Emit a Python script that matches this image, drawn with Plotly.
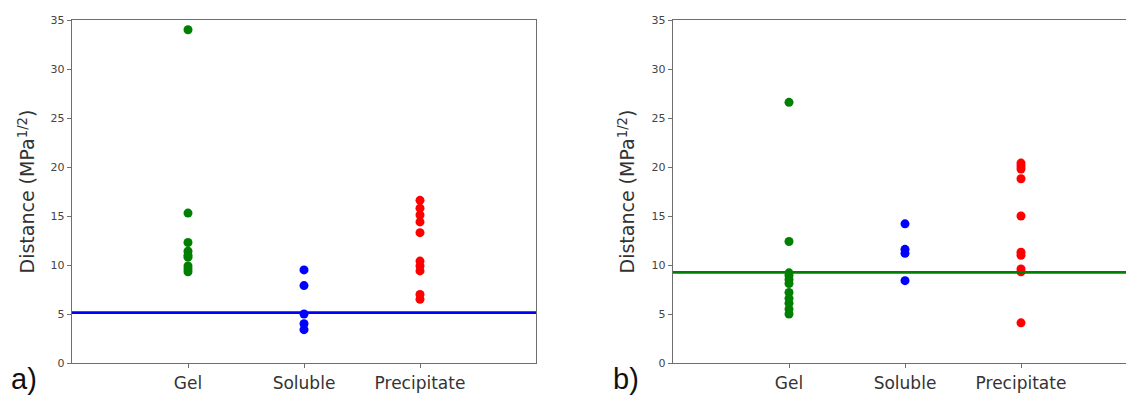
import plotly.graph_objects as go

categories = ["Gel", "Soluble", "Precipitate"]
colors = ["#008000", "#0000ff", "#ff0000"]

# Panel a)
a_gel = [34.0, 15.3, 12.3, 11.4, 11.0, 10.8, 9.9, 9.6, 9.3]
a_soluble = [9.5, 7.9, 5.0, 4.0, 3.4]
a_precipitate = [16.6, 15.8, 15.1, 14.4, 13.3, 10.4, 9.9, 9.4, 7.0, 6.5]
a_threshold = 5.15

# Panel b)
b_gel = [26.6, 12.4, 9.2, 8.9, 8.5, 8.1, 7.2, 6.6, 6.1, 5.5, 5.0]
b_soluble = [14.2, 11.6, 11.2, 8.4]
b_precipitate = [20.4, 20.1, 19.8, 18.8, 15.0, 11.3, 11.0, 9.6, 9.3, 4.1]
b_threshold = 9.25

y_ticks = [0, 5, 10, 15, 20, 25, 30, 35]
y_title = "Distance (MPa<sup>1/2</sup>)"
panel_labels = ["a)", "b)"]

W, H = 1126, 396
fig = go.Figure()

panels = [
    ([a_gel, a_soluble, a_precipitate], a_threshold, "#0000ff", "x", "y"),
    ([b_gel, b_soluble, b_precipitate], b_threshold, "#008000", "x2", "y2"),
]

for series, thr, lcol, xa, ya in panels:
    for i, vals in enumerate(series):
        fig.add_trace(go.Scatter(
            x=[i + 1] * len(vals), y=vals, mode="markers",
            marker=dict(color=colors[i], size=9, line=dict(width=0)),
            xaxis=xa, yaxis=ya, showlegend=False, hoverinfo="y"))
    fig.add_shape(type="line", xref=f"{xa} domain", yref=ya,
                  x0=0, x1=1, y0=thr, y1=thr,
                  line=dict(color=lcol, width=2.8))

axis_common = dict(showgrid=False, zeroline=False, showline=True,
                   linecolor="#6e6e6e", linewidth=1.4, ticks="outside",
                   ticklen=4, tickcolor="#6e6e6e", tickwidth=1)

x1d = [72 / W, 536 / W]
x2d = [673 / W, 1.0]
ydom = [0, 1]

fig.update_layout(
    width=W, height=H,
    margin=dict(l=0, r=0, t=20, b=33),
    paper_bgcolor="white", plot_bgcolor="white",
    font=dict(family="DejaVu Sans", color="#333333"),
    xaxis=dict(domain=x1d, range=[0, 4], tickvals=[1, 2, 3], ticktext=categories,
               mirror=True, tickfont=dict(size=17, color="#333333"), anchor="y",
               **axis_common),
    yaxis=dict(domain=ydom, range=[0, 35], tickvals=y_ticks, mirror=True,
               tickfont=dict(size=11, color="#444444"), anchor="x", **axis_common),
    xaxis2=dict(domain=x2d, range=[0, (W - 673) / 116.0], tickvals=[1, 2, 3],
                ticktext=categories, mirror=True,
                tickfont=dict(size=17, color="#333333"), anchor="y2", **axis_common),
    yaxis2=dict(domain=ydom, range=[0, 35], tickvals=y_ticks, mirror=False,
                tickfont=dict(size=11, color="#444444"), anchor="x2", **axis_common),
)

# y-axis titles
for xpos in [26, 626]:
    fig.add_annotation(text=y_title, xref="paper", yref="paper",
                       x=xpos / W, y=0.5, xanchor="center", yanchor="middle",
                       textangle=-90, showarrow=False,
                       font=dict(size=19, color="#333333", family="DejaVu Sans"))

# panel labels
for xpos, lab in zip([24, 626], panel_labels):
    fig.add_annotation(text=lab, xref="paper", yref="paper",
                       x=xpos / W, y=-(379 - 363) / (H - 53),
                       xanchor="center", yanchor="middle", showarrow=False,
                       font=dict(size=29, color="#111111", family="Liberation Sans"))

fig.write_html("out.html")
